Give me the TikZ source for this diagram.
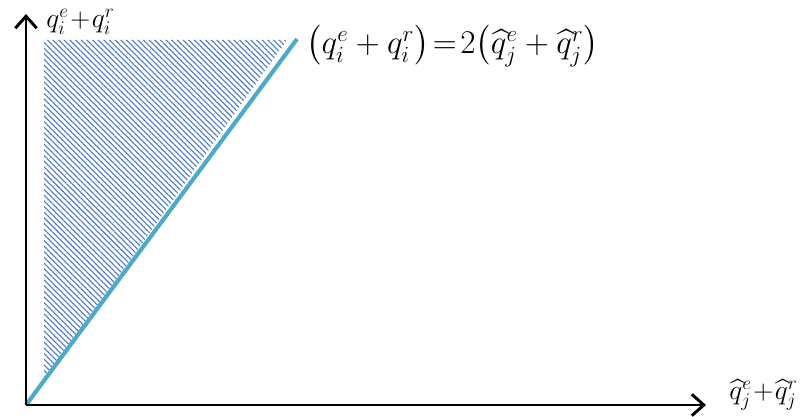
\documentclass[tikz,border=0pt]{standalone}
\usepackage{amsmath}
\usetikzlibrary{arrows.meta,patterns.meta}
\definecolor{lineblue}{RGB}{75,170,200}
\definecolor{hatchblue}{RGB}{70,120,200}
\begin{document}
\begin{tikzpicture}[x=.75pt,y=.75pt,line width=2.2pt]
  \useasboundingbox (0,0) rectangle (803,417);
  \coordinate (o) at (26,12);
  \coordinate (ytop) at (26,403);
  \coordinate (xend) at (706,12);
  \coordinate (a) at (44,36);
  \coordinate (b) at (44,377);
  \coordinate (c) at (287,377);
  \coordinate (d) at (297,378);
  % hatched region
  \fill[pattern={Lines[angle=-45,distance=3pt,line width=.8pt]},pattern color=hatchblue]
    (a)--(b)--(c)--cycle;
  \draw[line width=3pt,gray!30,shift={(2,-3)}] (o)--(d);
  \draw[line width=3pt,lineblue] (o)--(d);
  \draw[-{Straight Barb[length=9pt,width=16pt,line width=2.2pt]}] (o)--(ytop);
  \draw[-{Straight Barb[length=9pt,width=16pt,line width=2.2pt]}] (o)--(xend);
  \node[anchor=west,font=\huge,inner sep=0pt] (ylab) at (45,395) {$q_i^e\!+\!q_i^r$};
  \node[anchor=west,font=\huge,inner sep=0pt] (xlab) at (728,22) {$\widehat{q}_j^e\!+\!\widehat{q}_j^r$};
  \node[anchor=west,font=\fontsize{23}{28}\selectfont,inner sep=0pt] (eq) at (305,371)
    {$\bigl(q_i^e+q_i^r\bigr)\!=\!2\bigl(\widehat{q}_j^e+\widehat{q}_j^r\bigr)$};
\end{tikzpicture}
\end{document}
